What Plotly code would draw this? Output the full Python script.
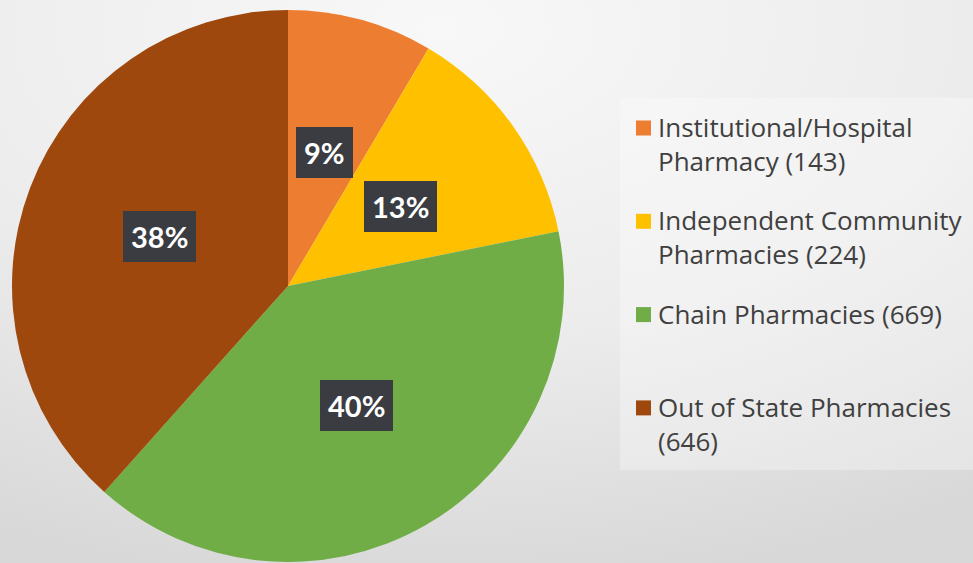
import math
import base64
import plotly.graph_objects as go

# ---- data ----
categories = [
    "Institutional/Hospital<br>Pharmacy",
    "Independent Community<br>Pharmacies",
    "Chain Pharmacies",
    "Out of State Pharmacies",
]
count_sep = [" ", " ", " ", "<br>"]  # how the count follows the name
values = [143, 224, 669, 646]
colors = ["#ED7D31", "#FFC000", "#70AD47", "#9E480E"]

W, H = 973, 563
cx, cy, R = 288, 286, 276  # pie centre / radius in pixels (from top-left)

# background gradient as an SVG image
svg = (
    '<svg xmlns="http://www.w3.org/2000/svg" width="973" height="563">'
    '<defs><radialGradient id="g" cx="0.45" cy="0.05" r="1.0">'
    '<stop offset="0" stop-color="#f8f8f8"/>'
    '<stop offset="0.55" stop-color="#ececec"/>'
    '<stop offset="1" stop-color="#d8d8d8"/>'
    '</radialGradient></defs>'
    '<rect width="973" height="563" fill="url(#g)"/></svg>'
)
bg_src = "data:image/svg+xml;base64," + base64.b64encode(svg.encode()).decode()

labels = [f"{c}{s}({v})" for c, s, v in zip(categories, count_sep, values)]

fig = go.Figure()
fig.add_trace(go.Pie(
    labels=labels,
    values=values,
    sort=False,
    direction="clockwise",
    rotation=0,
    textinfo="none",
    hoverinfo="label+percent",
    showlegend=False,
    marker=dict(colors=colors, line=dict(width=0)),
    domain=dict(x=[(cx - R) / W, (cx + R) / W],
                y=[(H - cy - R) / H, (H - cy + R) / H]),
))

# percentage labels placed at slice mid-angles
total = sum(values)
annotations = []
cum = 0
for v in values:
    frac = v / total
    mid = (cum + frac / 2) * 2 * math.pi
    cum += frac
    px = cx + 0.5 * R * math.sin(mid)
    py = (H - cy) + 0.5 * R * math.cos(mid)
    annotations.append(dict(
        x=px / W, y=py / H, xref="paper", yref="paper",
        xanchor="center", yanchor="middle",
        text=f"{round(frac * 100)}%", showarrow=False,
        font=dict(family="Lato", size=29, color="white", weight="bold"),
        bgcolor="#3a3c41", borderpad=8, borderwidth=0,
    ))

# legend (swatch + label) on the right
shapes = [dict(type="rect", xref="paper", yref="paper",
               x0=620 / W, x1=1, y0=(H - 470) / H, y1=(H - 98) / H,
               fillcolor="rgba(255,255,255,0.3)", line=dict(width=0),
               layer="below")]
leg_top, leg_pitch = 128, 93.3
for i, (lab, col) in enumerate(zip(labels, colors)):
    yc = leg_top + i * leg_pitch  # centre of first text line, px from top
    shapes.append(dict(type="rect", xref="paper", yref="paper",
                       x0=636 / W, x1=651 / W,
                       y0=(H - yc - 7.5) / H, y1=(H - yc + 7.5) / H,
                       fillcolor=col, line=dict(width=0)))
    annotations.append(dict(
        x=656 / W, y=(H - yc + 21) / H, xref="paper", yref="paper",
        xanchor="left", yanchor="top", align="left",
        text=lab, showarrow=False,
        font=dict(family="Open Sans", size=26, color="#404040"),
    ))

fig.update_layout(
    width=W, height=H,
    margin=dict(l=0, r=0, t=0, b=0),
    paper_bgcolor="#ececec",
    images=[dict(source=bg_src, xref="paper", yref="paper", x=0, y=1,
                 sizex=1, sizey=1, sizing="stretch", layer="below")],
    shapes=shapes,
    showlegend=False,
    annotations=annotations,
)

fig.write_html("out.html")
